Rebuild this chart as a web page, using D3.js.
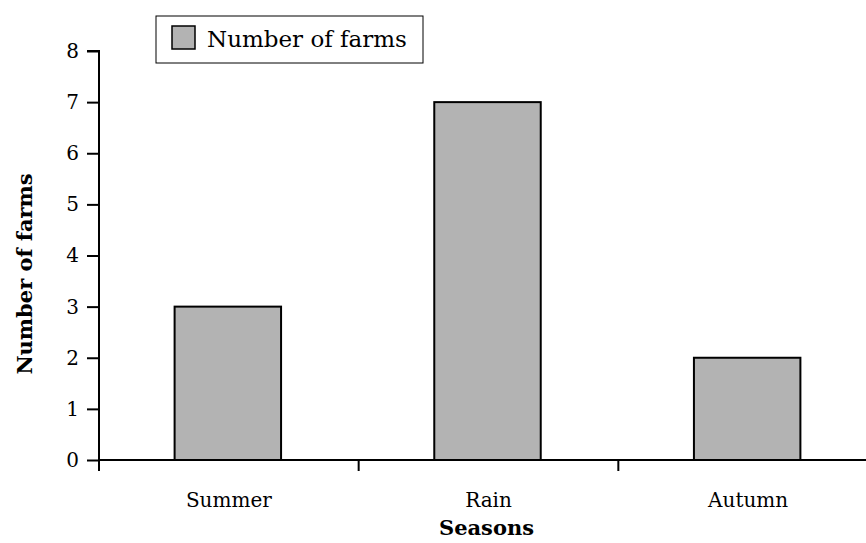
<!DOCTYPE html>
<html><head><meta charset="utf-8">
<script src="https://cdn.jsdelivr.net/npm/d3@7"></script>
<style>body{margin:0;background:#fff}svg{display:block}</style>
</head><body>
<svg id="c" width="866" height="543"></svg>
<script>
const categories = ["Summer", "Rain", "Autumn"];
const values = [3, 7, 2];
const yTicks = [0, 1, 2, 3, 4, 5, 6, 7, 8];
const seriesName = "Number of farms";
const xTitle = "Seasons";
const yTitle = "Number of farms";

const font = "'DejaVu Serif', 'Liberation Serif', serif";
const svg = d3.select("#c");
const mLeft = 99, mRight = 878, mTop = 51, mBottom = 460;

const x = d3.scaleBand().domain(categories).range([mLeft, mRight]).padding(0);
const y = d3.scaleLinear().domain([0, 8]).range([mBottom, mTop]);
const barW = x.bandwidth() * 0.41;

// bars
svg.append("g").selectAll("rect").data(values).join("rect")
  .attr("x", (d, i) => x(categories[i]) + (x.bandwidth() - barW) / 2 - 1)
  .attr("y", d => y(d))
  .attr("width", barW)
  .attr("height", d => y(0) - y(d))
  .attr("fill", "#b3b3b3").attr("stroke", "#000").attr("stroke-width", 2);

// y axis
const ya = svg.append("g").attr("transform", `translate(${mLeft},0)`)
  .call(d3.axisLeft(y).tickValues(yTicks).tickFormat(d3.format("d")).tickSize(12).tickPadding(8));
ya.select(".domain").attr("stroke-width", 2).attr("d", `M-12,${mTop}H0V${mBottom}`);
ya.selectAll(".tick line").attr("stroke-width", 2);
ya.selectAll("text").attr("font-family", font).attr("font-size", 20).attr("fill", "#000");

// x axis
const xa = svg.append("g").attr("transform", `translate(0,${mBottom})`)
  .call(d3.axisBottom(x).tickSize(0).tickPadding(33));
xa.select(".domain").attr("stroke-width", 2).attr("d", `M${mLeft},0H${mRight}`);
xa.selectAll("text").attr("font-family", font).attr("font-size", 20).attr("fill", "#000");
const bounds = categories.map(c => x(c)).concat([x.range()[1]]);
xa.selectAll(".btick").data(bounds).join("line").attr("class", "btick")
  .attr("x1", d => d).attr("x2", d => d).attr("y1", 0).attr("y2", 11)
  .attr("stroke", "#000").attr("stroke-width", 2);

// titles
svg.append("text").attr("x", x("Rain") + x.bandwidth() / 2 - 2).attr("y", 535)
  .attr("text-anchor", "middle").attr("font-family", font).attr("font-weight", "bold")
  .attr("font-size", 21).text(xTitle);
svg.append("text").attr("transform", `translate(32,274) rotate(-90)`)
  .attr("text-anchor", "middle").attr("font-family", font).attr("font-weight", "bold")
  .attr("font-size", 21).text(yTitle);

// legend
const lg = svg.append("g").attr("transform", "translate(156,16)");
lg.append("rect").attr("width", 267).attr("height", 47).attr("fill", "#fff").attr("stroke", "#000").attr("stroke-width", 1);
lg.append("rect").attr("x", 16).attr("y", 10).attr("width", 23).attr("height", 23)
  .attr("fill", "#b3b3b3").attr("stroke", "#000").attr("stroke-width", 1.5);
lg.append("text").attr("x", 51).attr("y", 31).attr("font-family", font).attr("font-size", 23).text(seriesName);
</script>
</body></html>
